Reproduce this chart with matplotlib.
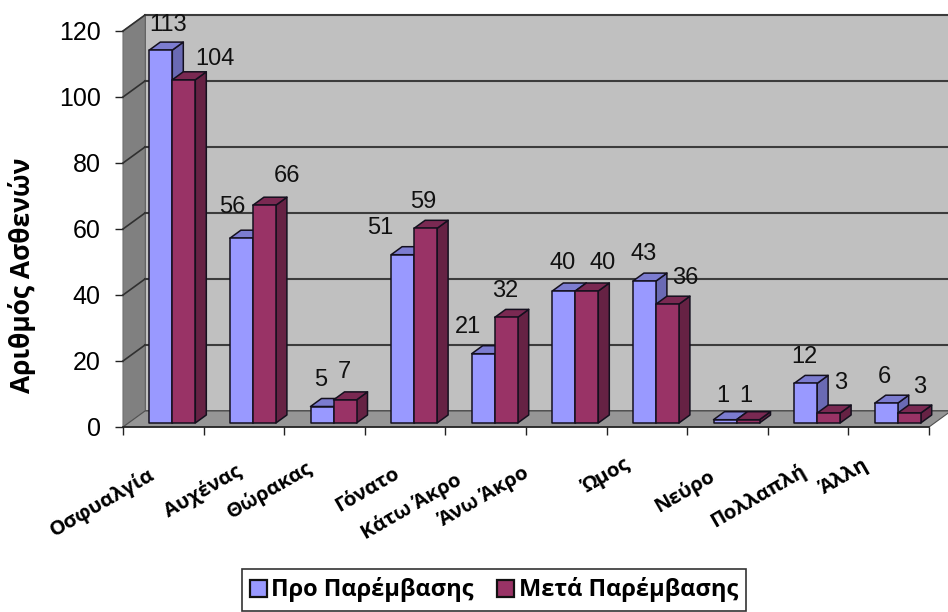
import matplotlib
matplotlib.use("Agg")
import matplotlib.pyplot as plt
from matplotlib.patches import Patch, Polygon

# patient counts per pain site, before and after the intervention
categories = ["Οσφυαλγία", "Αυχένας", "Θώρακας", "Γόνατο", "Κάτω Άκρο",
              "Άνω Άκρο", "Ώμος", "Νεύρο", "Πολλαπλή", "Άλλη"]
before = [113, 56, 5, 51, 21, 40, 43, 1, 12, 6]
after = [104, 66, 7, 59, 32, 40, 36, 1, 3, 3]
series_names = ["Προ Παρέμβασης", "Μετά Παρέμβασης"]
yticks = [0, 20, 40, 60, 80, 100, 120]

# label nudges in pixels, the 3D layout pushes labels around
before_nudge = [(7, 25), (-9, 31), (-1, 27), (-22, 27), (-15, 27),
                (-1, 28), (-1, 27), (-2, 24), (-1, 26), (-2, 26)]
after_nudge = [(31, 21), (23, 29), (-1, 28), (-2, 26), (-1, 26),
               (16, 28), (18, 26), (-2, 24), (12, 30), (10, 26)]
cat_nudge = [(-61, -76), (-41, -64), (-55, -63), (-38, -63), (-74, -80),
             (-82, -70), (-41, -49), (-43, -64), (-50, -69), (-44, -50)]

W, H = 948, 612
PX_X = 80.6                 # pixels per category
PX_Y = 3.3                  # pixels per patient
DX, DY = 22 / PX_X, 16 / PX_Y       # depth of the 3D box
BX, BY = 11 / PX_X, 8 / PX_Y        # depth of one bar
BAR_W = 23 / PX_X
BASE_X, BASE_Y = 9 / PX_X, 4 / PX_Y

BLUE = ("#9999ff", "#6a6ab4", "#7c7cd0")    # front, side, top
RED = ("#993366", "#662244", "#7a2952")
BOLD_FONT = ["Open Sans", "DejaVu Sans"]

plt.rcParams["font.family"] = ["Liberation Sans", "DejaVu Sans"]

fig = plt.figure(figsize=(W / 100, H / 100), dpi=100)
ax = fig.add_axes([123 / W, 1 - 427 / H, 806 / W, 396 / H])
ax.set_xlim(0, 10)
ax.set_ylim(0, 120)
ax.patch.set_visible(False)
for s in ax.spines.values():
    s.set_visible(False)


def poly(pts, fc, ec="none", lw=0.0, z=1):
    ax.add_patch(Polygon(pts, closed=True, fc=fc, ec=ec, lw=lw, zorder=z,
                         clip_on=False, joinstyle="round"))


# walls and floor
poly([(DX, DY), (10 + DX, DY), (10 + DX, 120 + DY), (DX, 120 + DY)], "#c0c0c0", "#404040", 1.2)
poly([(0, 0), (DX, DY), (DX, 120 + DY), (0, 120)], "#808080", "#707070", 0.8)
poly([(0, 0), (10, 0), (10 + DX, DY), (DX, DY)], "#969696", "#505050", 0.8)

for y in yticks[1:]:
    ax.plot([DX, 10 + DX], [y + DY, y + DY], color="#3c3c3c", lw=1.5, zorder=2, clip_on=False)
    ax.plot([0, DX], [y, y + DY], color="#303030", lw=1.2, zorder=2, clip_on=False)


def draw_bar(x, v, colors, z):
    front, side, top = colors
    x0, x1 = x, x + BAR_W
    y0, y1 = BASE_Y, BASE_Y + v
    edge = dict(ec="#14101e", lw=1.1, z=z)
    poly([(x1, y0), (x1 + BX, y0 + BY), (x1 + BX, y1 + BY), (x1, y1)], side, **edge)
    poly([(x0, y1), (x1, y1), (x1 + BX, y1 + BY), (x0 + BX, y1 + BY)], top, **edge)
    poly([(x0, y0), (x1, y0), (x1, y1), (x0, y1)], front, **edge)


for i in range(len(categories)):
    left = i + 0.5 + BASE_X - BAR_W
    draw_bar(left, before[i], BLUE, 3 + i * 0.1)
    draw_bar(left + BAR_W, after[i], RED, 3.05 + i * 0.1)
    for x, v, nudge in ((left + BAR_W / 2, before[i], before_nudge[i]),
                        (left + 1.5 * BAR_W, after[i], after_nudge[i])):
        ax.annotate(str(v), (x, BASE_Y + v), xytext=nudge, textcoords="offset pixels",
                    ha="center", va="center", fontsize=17, color="#111111", zorder=10,
                    annotation_clip=False)
    ax.annotate(categories[i], (i + 0.5, 0), xytext=cat_nudge[i], textcoords="offset pixels",
                ha="center", va="center", rotation=30, rotation_mode="anchor",
                fontsize=14.7, fontweight="bold", family=BOLD_FONT,
                annotation_clip=False)

ax.set_xticks(range(11))
ax.set_xticklabels([])
ax.set_yticks(yticks)
ax.tick_params(axis="both", length=6, width=1.0, color="#222222")
ax.tick_params(axis="y", labelsize=18, pad=10)
ax.plot([0, 10], [0, 0], color="#222222", lw=1.2, zorder=3, clip_on=False)

fig.text(22 / W, 1 - 275 / H, "Αριθμός Ασθενών", rotation=90, ha="center", va="center",
         fontsize=19, fontweight="bold", family=BOLD_FONT)

handles = [Patch(fc=BLUE[0], ec="#111111", lw=1.6, label=series_names[0]),
           Patch(fc=RED[0], ec="#111111", lw=1.6, label=series_names[1])]
leg = fig.legend(handles=handles, ncol=2, loc="center", bbox_to_anchor=(494 / W, 1 - 590 / H),
                 prop=dict(family=BOLD_FONT, weight="bold", size=17),
                 handlelength=0.7, handleheight=0.7, handletextpad=0.2, columnspacing=1.0,
                 frameon=True, fancybox=False, framealpha=1, edgecolor="#333333",
                 borderpad=0.35)
leg.get_frame().set_linewidth(1.2)

fig.savefig("out.png", dpi=100)
